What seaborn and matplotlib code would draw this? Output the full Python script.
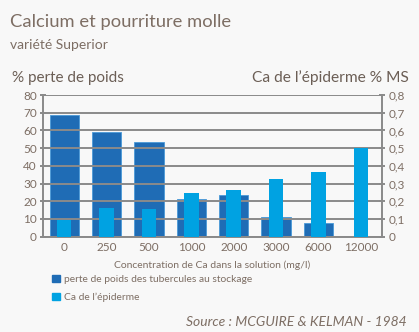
import matplotlib
matplotlib.use("Agg")
import matplotlib.pyplot as plt
import seaborn as sns
import pandas as pd
import numpy as np
from matplotlib.patches import Patch

categories = ["0", "250", "500", "1000", "2000", "3000", "6000", "12000"]
perte_poids = [68.7, 58.9, 53.2, 21.5, 23.4, 11.3, 7.6, 0]
ca_epiderme = [0.092, 0.164, 0.158, 0.245, 0.264, 0.324, 0.367, 0.502]
left_ticks = [0, 10, 20, 30, 40, 50, 60, 70, 80]
right_ticks = ["0", "0,1", "0,2", "0,3", "0,4", "0,5", "0,6", "0,7", "0,8"]

sns.set_theme(style="white")
plt.rcParams["font.family"] = ["Lato", "DejaVu Sans"]

BG = "#f8f8f8"
TXT = "#7d6e64"
DARK = "#1f6cb5"
LIGHT = "#00a2e2"
GRID = "#8a8a8a"

fig = plt.figure(figsize=(4.19, 3.32), dpi=100, facecolor=BG)
ax = fig.add_axes([43 / 419, 1 - 236.7 / 332, (382 - 43) / 419, (236.7 - 95) / 332])
ax.set_facecolor(BG)

df1 = pd.DataFrame({"cat": categories, "val": perte_poids})
df2 = pd.DataFrame({"cat": categories, "val": ca_epiderme})

sns.barplot(data=df1, x="cat", y="val", ax=ax, color=DARK, width=0.69,
            edgecolor="#4a9ad8", linewidth=0.6, saturation=1, zorder=1)
ax.set_ylim(0, 80)
ax.set_xlim(-0.5, 7.5)
ax.set_yticks(left_ticks)
ax.set_axisbelow(False)
ax.yaxis.grid(True, color=GRID, linewidth=1.4, zorder=2)
ax.set_xlabel("Concentration de Ca dans la solution (mg/l)", color=TXT, fontsize=7.5, labelpad=5)
ax.set_ylabel("")

ax2 = ax.twinx()
sns.barplot(data=df2, x="cat", y="val", ax=ax2, color=LIGHT, width=0.345,
            edgecolor=LIGHT, linewidth=0, saturation=1, zorder=3)
ax2.set_ylim(0, 0.8)
ax2.set_xlim(-0.5, 7.5)
ax2.set_yticks(np.linspace(0, 0.8, 9))
ax2.set_yticklabels(right_ticks)
ax2.set_ylabel("")
ax2.grid(False)

for a in (ax, ax2):
    for s in a.spines.values():
        s.set_visible(False)
    a.tick_params(colors=TXT, labelsize=8.5, length=4, width=1.4)
ax.spines["left"].set_visible(True)
ax.spines["left"].set_color(GRID)
ax.spines["left"].set_linewidth(1.4)
ax.spines["bottom"].set_visible(True)
ax.spines["bottom"].set_color(GRID)
ax.spines["bottom"].set_linewidth(1.4)
ax2.spines["right"].set_visible(True)
ax2.spines["right"].set_color(GRID)
ax2.spines["right"].set_linewidth(1.4)
ax.tick_params(axis="y", color=GRID, pad=2)
ax2.tick_params(axis="y", color=GRID, pad=2)
ax.tick_params(axis="x", length=0, pad=4)
ax.set_xticks(np.arange(-0.5, 8, 1), minor=True)
ax.tick_params(axis="x", which="minor", length=4, width=1.4, color=GRID, direction="inout")
ax.tick_params(axis="y", direction="inout", length=5)
ax2.tick_params(axis="y", direction="inout", length=5)

fig.text(10 / 419, 1 - 22 / 332, "Calcium et pourriture molle", color=TXT, fontsize=13.2,
         va="center", ha="left")
fig.text(10 / 419, 1 - 45 / 332, "variété Superior", color=TXT, fontsize=10,
         va="center", ha="left")
fig.text(12 / 419, 1 - 78 / 332, "% perte de poids", color="#6b5e55", fontsize=11,
         va="center", ha="left")
fig.text(409 / 419, 1 - 78 / 332, "Ca de l\u2019épiderme % MS", color="#6b5e55", fontsize=11.2,
         va="center", ha="right")

handles = [Patch(facecolor=DARK, edgecolor=DARK), Patch(facecolor=LIGHT, edgecolor=LIGHT)]
fig.legend(handles, ["perte de poids des tubercules au stockage", "Ca de l\u2019épiderme"],
           loc="upper left", bbox_to_anchor=(52 / 419, 1 - 274.5 / 332), frameon=False,
           fontsize=7.4, labelcolor=TXT, handlelength=0.75, handleheight=0.75,
           handletextpad=0.45, labelspacing=0.85, borderpad=0, borderaxespad=0)

fig.text(407 / 419, 1 - 322 / 332, "Source : MCGUIRE & KELMAN - 1984", color=TXT,
         fontsize=10, style="italic", va="center", ha="right")

fig.savefig("out.png", dpi=100, facecolor=BG)
